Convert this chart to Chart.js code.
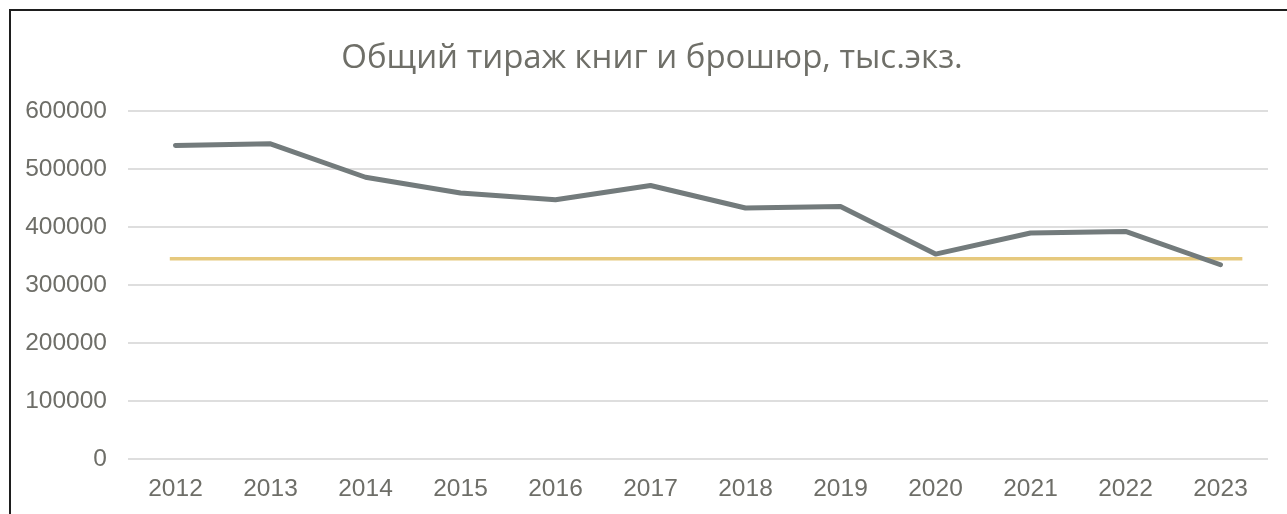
<!DOCTYPE html>
<html>
<head>
<meta charset="utf-8">
<script src="https://cdn.jsdelivr.net/npm/chart.js@4.4.1/dist/chart.umd.min.js"></script>
<style>
  html, body { margin: 0; padding: 0; background: #ffffff; overflow: hidden; }
  #wrap { position: relative; width: 1287px; height: 514px; }
  #frame { position: absolute; left: 9px; top: 9px; width: 1300px; height: 520px;
           border-top: 2px solid #1e1e1e; border-left: 2px solid #1e1e1e; box-sizing: border-box; pointer-events: none; }
  canvas { position: absolute; left: 0; top: 0; }
</style>
</head>
<body>
<div id="wrap">
  <canvas id="c" width="1287" height="514"></canvas>
  <div id="frame"></div>
</div>
<script>
const titleText = "Общий тираж книг и брошюр, тыс.экз.";
const years = ["2012","2013","2014","2015","2016","2017","2018","2019","2020","2021","2022","2023"];
const circulation = [540700, 543600, 485900, 458600, 447100, 471700, 432800, 435500, 353400, 389700, 392400, 335000];
const refLineX = [-0.06, 11.23];
const refLineY = [345300, 345300];
const yTicks = [0, 100000, 200000, 300000, 400000, 500000, 600000];

const refPoints = refLineX.map((x, i) => ({ x: x, y: refLineY[i] }));

const titleShift = {
  id: 'titleShift',
  afterLayout(chart) {
    const t = chart.titleBlock;
    if (t) { t.left += 36; }
  }
};

new Chart(document.getElementById('c'), {
  type: 'line',
  plugins: [titleShift],
  data: {
    labels: years,
    datasets: [
      {
        label: 'ref',
        data: refPoints,
        xAxisID: 'x2',
        borderColor: '#E6C97E',
        borderWidth: 3.5,
        pointRadius: 0,
        borderCapStyle: 'butt',
        order: 2
      },
      {
        label: 'Тираж',
        data: circulation,
        xAxisID: 'x',
        borderColor: '#737B7C',
        borderWidth: 5,
        pointRadius: 0,
        tension: 0,
        borderCapStyle: 'round',
        borderJoinStyle: 'round',
        order: 1
      }
    ]
  },
  options: {
    responsive: false,
    animation: false,
    devicePixelRatio: 1,
    layout: { padding: { left: 0, right: 19, top: 0, bottom: 0 } },
    plugins: {
      legend: { display: false },
      tooltip: { enabled: false },
      title: {
        display: true,
        text: titleText,
        color: '#6F6F68',
        font: { family: "'Open Sans'", size: 33, weight: 'normal' },
        padding: { top: 39, bottom: 32.5 }
      }
    },
    scales: {
      x: {
        type: 'category',
        offset: true,
        grid: { display: false, drawTicks: false },
        border: { display: false },
        ticks: { color: '#6E6E68', font: { family: "'Liberation Sans', Arial", size: 24.5 }, padding: 16, maxRotation: 0 },
        afterFit: (s) => { s.height = 55; }
      },
      x2: {
        type: 'linear',
        display: false,
        min: -0.5,
        max: years.length - 0.5
      },
      y: {
        min: 0,
        max: 600000,
        afterBuildTicks: (s) => { s.ticks = yTicks.map(v => ({ value: v })); },
        grid: { color: '#DEDEDE', lineWidth: 2, drawTicks: false },
        border: { display: false },
        ticks: { color: '#6E6E68', font: { family: "'Liberation Sans', Arial", size: 24.5 }, padding: 21, callback: (v) => String(v) },
        afterFit: (s) => { s.width = 128; }
      }
    }
  }
});
</script>
</body>
</html>
